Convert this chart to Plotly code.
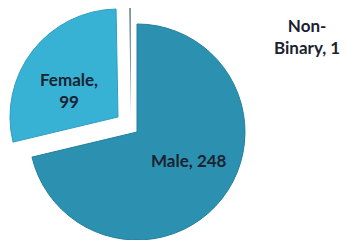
import plotly.graph_objects as go

labels = ["Male", "Female", "Non-Binary"]
values = [248, 99, 1]
colors = ["#2c91b0", "#38b2d4", "#8096a0"]
rim_colors = ["#25809c", "#2e9fc0", "#8096a0"]

W, H = 347, 240
R = 108
base_cx, base_cy = 137, 132
# per-slice translation (explosion) in pixels
offsets = [(0, 0), (-19, -15), (-6, -16)]

fig = go.Figure()
for i, lab in enumerate(labels):
    dx, dy = offsets[i]
    cx, cy = base_cx + dx, base_cy + dy
    dom_x = [(cx - R) / W, (cx + R) / W]
    dom_y = [max(0, (H - (cy + R)) / H), min(1, (H - (cy - R)) / H)]
    slice_colors = [colors[j] if j == i else "rgba(0,0,0,0)" for j in range(len(labels))]
    line_colors = [rim_colors[j] if j == i else "rgba(0,0,0,0)" for j in range(len(labels))]
    line_widths = [1 if (j == i and j < 2) else 0 for j in range(len(labels))]
    fig.add_trace(go.Pie(
        labels=labels, values=values, sort=False, direction="clockwise", rotation=0,
        marker=dict(colors=slice_colors, line=dict(width=line_widths, color=line_colors)),
        textinfo="none", hoverinfo="skip", showlegend=False,
        domain=dict(x=dom_x, y=dom_y),
    ))

label_pos = [(189, 160), (69, 90), (307, 36)]
texts = [f"{labels[0]}, {values[0]}",
         f"{labels[1]},<br>{values[1]}",
         f"Non-<br>Binary, {values[2]}"]
for (x, y), t in zip(label_pos, texts):
    fig.add_annotation(x=x / W, y=1 - y / H, xref="paper", yref="paper",
                       text=f"<b>{t}</b>", showarrow=False,
                       font=dict(family="Lato", size=17, color="#1b2230"),
                       xanchor="center", yanchor="middle")

fig.update_layout(width=W, height=H, margin=dict(l=0, r=0, t=0, b=0),
                  paper_bgcolor="white", plot_bgcolor="white")
fig.write_html("out.html", config={"displayModeBar": False},
               post_script="document.body.style.margin='0';")
